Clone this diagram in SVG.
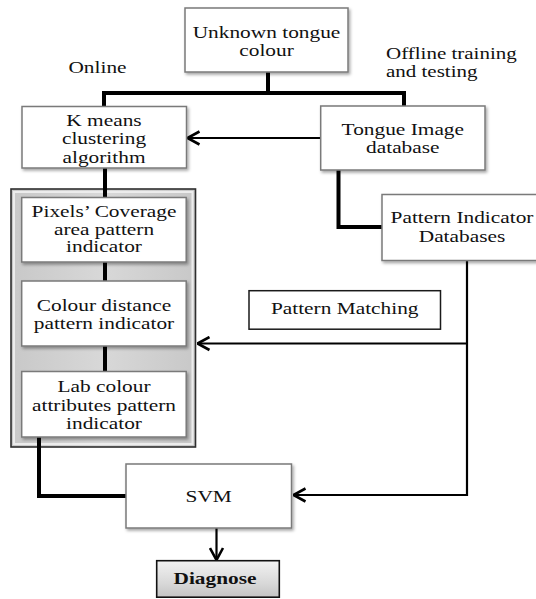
<svg xmlns="http://www.w3.org/2000/svg" width="536" height="599" viewBox="0 0 536 599" font-family="'Liberation Serif', 'DejaVu Serif', serif">
  <defs>
    <style>
      .box { fill: #ffffff; stroke: #7a7a7a; stroke-width: 1.5; filter: url(#shadow); }
      .plain { fill: #ffffff; stroke: #1a1a1a; stroke-width: 1.5; }
      .lbl { font-family: 'Liberation Serif', 'DejaVu Serif', serif; font-size: 17.5px; fill: #111111; text-anchor: middle; }
      .start { text-anchor: start; }
      .bold { font-weight: bold; }
      .thick { fill: none; stroke: #000000; stroke-width: 4; stroke-linejoin: miter; }
      .thin { fill: none; stroke: #000000; stroke-width: 2.2; }
    </style>
    <filter id="shadow" x="-10%" y="-10%" width="125%" height="130%">
      <feDropShadow dx="1.5" dy="2" stdDeviation="1.5" flood-color="#000000" flood-opacity="0.35"/>
    </filter>
    <linearGradient id="diag" x1="0" y1="0" x2="0" y2="1">
      <stop offset="0" stop-color="#f2f2f2"/>
      <stop offset="0.6" stop-color="#d9d9d9"/>
      <stop offset="1" stop-color="#c4c4c4"/>
    </linearGradient>
    <linearGradient id="panel" x1="0" y1="0" x2="1" y2="0">
      <stop offset="0" stop-color="#c8c8c8"/>
      <stop offset="0.5" stop-color="#d8d8d8"/>
      <stop offset="1" stop-color="#c8c8c8"/>
    </linearGradient>
    <marker id="arrow" viewBox="0 0 14 16" refX="13" refY="8" markerWidth="14" markerHeight="16" markerUnits="userSpaceOnUse" orient="auto">
      <path d="M1,1.5 L13,8 L1,14.5" fill="none" stroke="#000000" stroke-width="2.6"/>
    </marker>
  </defs>

  <rect width="536" height="599" fill="#ffffff"/>

  <!-- free-standing captions -->
  <g id="captions">
    <text class="lbl" transform="translate(97.5,73) scale(1.22,1)">Online</text>
    <text class="lbl start" transform="translate(386,59) scale(1.2,1)">Offline training</text>
    <text class="lbl start" transform="translate(386,77) scale(1.2,1)">and testing</text>
  </g>

  <!-- shaded panel holding the three pattern indicators -->
  <g id="indicator-panel">
    <rect x="11" y="189" width="184.5" height="258" fill="url(#panel)" stroke="#2e2e2e" stroke-width="1.6"/>
    <rect x="14" y="192" width="178.5" height="252" fill="none" stroke="#ececec" stroke-width="2"/>
  </g>

  <!-- connectors -->
  <g id="connectors">
    <path class="thick" d="M268,72 V93 M104,106 V93 H404 V106"/>
    <path class="thick" d="M105,168 V197.5"/>
    <path class="thick" d="M105,262 V281"/>
    <path class="thick" d="M105,346 V371.5"/>
    <path class="thick" d="M338.5,170 V227 H382"/>
    <path class="thick" d="M39,437 V496 H126"/>
    <path class="thin" d="M320.7,138 H187.5" marker-end="url(#arrow)"/>
    <path class="thin" d="M467,260.5 V495 H293.5" marker-end="url(#arrow)"/>
    <path class="thin" d="M467,343.5 H197.5" marker-end="url(#arrow)"/>
    <path class="thin" d="M216.5,528 V560" marker-end="url(#arrow)"/>
  </g>

  <g id="unknown-colour">
    <rect class="box" x="185" y="8" width="163" height="64"/>
    <text class="lbl" transform="translate(266.5,37.7) scale(1.22,1)">Unknown tongue</text>
    <text class="lbl" transform="translate(266.5,55.5) scale(1.22,1)">colour</text>
  </g>

  <g id="kmeans">
    <rect class="box" x="22" y="106.5" width="164.5" height="61.5"/>
    <text class="lbl" transform="translate(104,125.5) scale(1.22,1)">K means</text>
    <text class="lbl" transform="translate(104,144) scale(1.22,1)">clustering</text>
    <text class="lbl" transform="translate(104,162.5) scale(1.22,1)">algorithm</text>
  </g>

  <g id="tongue-db">
    <rect class="box" x="320.7" y="106" width="164.3" height="64"/>
    <text class="lbl" transform="translate(402.8,135) scale(1.22,1)">Tongue Image</text>
    <text class="lbl" transform="translate(402.8,153) scale(1.22,1)">database</text>
  </g>

  <g id="pattern-db">
    <rect class="box" x="382" y="194.5" width="162" height="66"/>
    <text class="lbl" transform="translate(462,223) scale(1.22,1)">Pattern Indicator</text>
    <text class="lbl" transform="translate(462,241.7) scale(1.22,1)">Databases</text>
  </g>

  <g id="pixels-coverage">
    <rect class="box" x="21.7" y="197.5" width="164.5" height="64.5"/>
    <text class="lbl" transform="translate(104,217) scale(1.22,1)">Pixels’ Coverage</text>
    <text class="lbl" transform="translate(104,234.5) scale(1.22,1)">area pattern</text>
    <text class="lbl" transform="translate(104,252) scale(1.22,1)">indicator</text>
  </g>

  <g id="colour-distance">
    <rect class="box" x="21.7" y="281" width="164.5" height="65"/>
    <text class="lbl" transform="translate(104,310.5) scale(1.22,1)">Colour distance</text>
    <text class="lbl" transform="translate(104,328.5) scale(1.22,1)">pattern indicator</text>
  </g>

  <g id="lab-colour">
    <rect class="box" x="21.7" y="371.5" width="164.5" height="65.5"/>
    <text class="lbl" transform="translate(104,392) scale(1.22,1)">Lab colour</text>
    <text class="lbl" transform="translate(104,411) scale(1.22,1)">attributes pattern</text>
    <text class="lbl" transform="translate(104,429) scale(1.22,1)">indicator</text>
  </g>

  <g id="pattern-matching">
    <rect class="plain" x="249" y="290.7" width="191.5" height="38.5"/>
    <text class="lbl" transform="translate(344.7,313.5) scale(1.22,1)">Pattern Matching</text>
  </g>

  <g id="svm">
    <rect class="box" x="126" y="464" width="165.5" height="64"/>
    <text class="lbl" transform="translate(208.7,501.7) scale(1.22,1)">SVM</text>
  </g>

  <g id="diagnose">
    <rect x="156.7" y="560.7" width="122.6" height="36.5" fill="url(#diag)" stroke="#111111" stroke-width="1.6"/>
    <text class="lbl bold" transform="translate(215,583.5) scale(1.22,1)">Diagnose</text>
  </g>
</svg>
